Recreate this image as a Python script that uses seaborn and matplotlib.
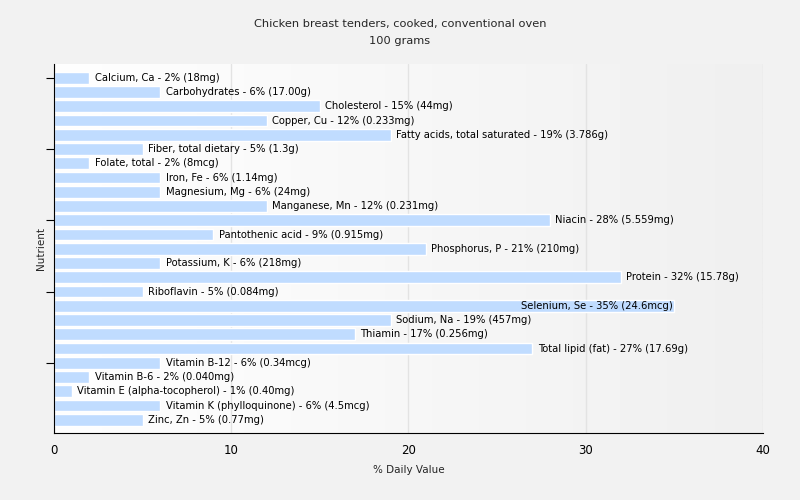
import numpy as np
import pandas as pd
import matplotlib
matplotlib.use("Agg")
import matplotlib.pyplot as plt
import seaborn as sns

# nutrient data (per 100 g)
nutrients = ["Calcium, Ca", "Carbohydrates", "Cholesterol", "Copper, Cu",
             "Fatty acids, total saturated", "Fiber, total dietary", "Folate, total",
             "Iron, Fe", "Magnesium, Mg", "Manganese, Mn", "Niacin", "Pantothenic acid",
             "Phosphorus, P", "Potassium, K", "Protein", "Riboflavin", "Selenium, Se",
             "Sodium, Na", "Thiamin", "Total lipid (fat)", "Vitamin B-12", "Vitamin B-6",
             "Vitamin E (alpha-tocopherol)", "Vitamin K (phylloquinone)", "Zinc, Zn"]
daily_value = [2, 6, 15, 12, 19, 5, 2, 6, 6, 12, 28, 9, 21, 6, 32, 5, 35, 19, 17, 27,
               6, 2, 1, 6, 5]
amounts = ["18mg", "17.00g", "44mg", "0.233mg", "3.786g", "1.3g", "8mcg", "1.14mg",
           "24mg", "0.231mg", "5.559mg", "0.915mg", "210mg", "218mg", "15.78g",
           "0.084mg", "24.6mcg", "457mg", "0.256mg", "17.69g", "0.34mcg", "0.040mg",
           "0.40mg", "4.5mcg", "0.77mg"]

df = pd.DataFrame({"Nutrient": nutrients, "DV": daily_value, "Amount": amounts})

sns.set_style("white")
plt.rcParams["font.family"] = ["DejaVu Sans"]

fig = plt.figure(figsize=(8, 5), dpi=100, facecolor="#f2f2f2")
ax = fig.add_axes([0.0675, 0.134, 0.886, 0.738])

# plot area gradient (white -> light gray)
grad = np.linspace(0, 1, 256).reshape(1, -1)
cmap = matplotlib.colors.LinearSegmentedColormap.from_list("bg", ["#ffffff", "#f0f0f0"])
ax.imshow(grad, cmap=cmap, aspect="auto", extent=[0, 1, 0, 1],
          transform=ax.transAxes, zorder=0)

sns.barplot(data=df, x="DV", y="Nutrient", orient="h", color="#c0dcff",
            saturation=1, width=0.82, ax=ax, zorder=2)

ax.set_xlim(0, 40)
ax.set_ylim(24.93, -0.97)
ax.set_xticks([0, 10, 20, 30, 40])
ax.set_yticks(range(0, len(nutrients), 5))
ax.set_yticklabels([])
ax.set_axisbelow(True)
ax.grid(axis="x", color="#e3e3e3", linewidth=1)

for i, row in df.iterrows():
    label = f"{row['Nutrient']} - {row['DV']}% ({row['Amount']})"
    if row["DV"] > 33:
        ax.text(row["DV"] - 0.1, i, label, va="center", ha="right", fontsize=7.2,
                color="black", zorder=3)
    else:
        ax.text(row["DV"] + 0.3, i, label, va="center", ha="left", fontsize=7.2,
                color="black", zorder=3)

for side in ["top", "right"]:
    ax.spines[side].set_visible(False)
ax.spines["left"].set_color("black")
ax.spines["bottom"].set_color("black")
ax.tick_params(axis="x", direction="out", length=5, labelsize=8.5, colors="black", pad=3)
ax.tick_params(axis="y", direction="out", length=6, left=True, colors="black")

ax.set_xlabel("% Daily Value", fontsize=7.5, labelpad=6)
ax.set_ylabel("Nutrient", fontsize=7.5)
ax.yaxis.set_label_coords(-0.011, 0.5)
fig.suptitle("Chicken breast tenders, cooked, conventional oven\n100 grams",
             fontsize=8.2, y=0.962, linespacing=1.85)

fig.savefig("out.png", dpi=100, facecolor=fig.get_facecolor())
